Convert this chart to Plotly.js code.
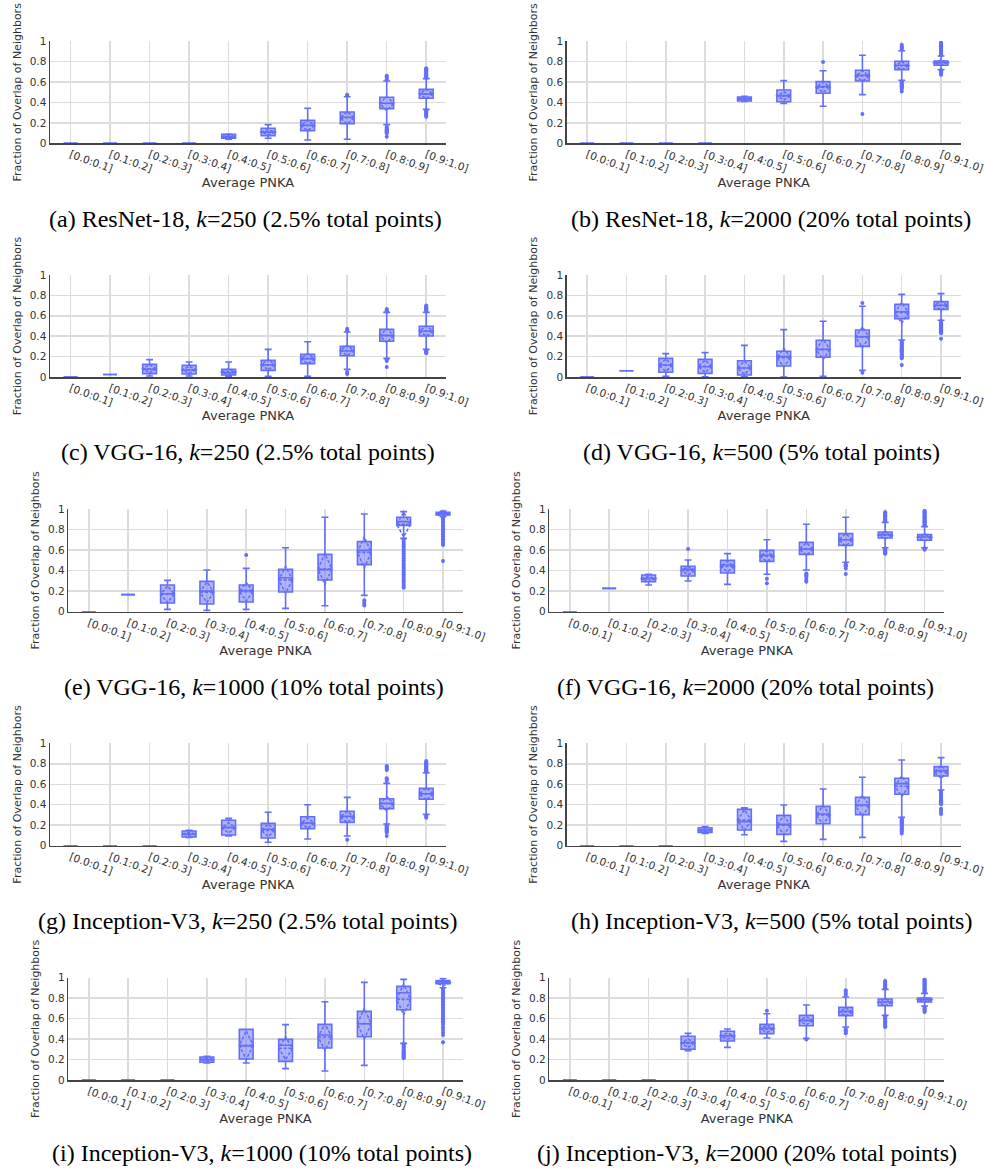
<!DOCTYPE html>
<html>
<head>
<meta charset="utf-8">
<script src="https://cdn.plot.ly/plotly-3.0.1.min.js"></script>
<style>html,body{margin:0;padding:0;background:#fff;}#chart{width:984px;height:1171px;}</style>
</head>
<body>
<div id="chart"></div>
<script>
// ---------- DATA ----------
const bins = ['[0.0:0.1]','[0.1:0.2]','[0.2:0.3]','[0.3:0.4]','[0.4:0.5]','[0.5:0.6]','[0.6:0.7]','[0.7:0.8]','[0.8:0.9]','[0.9:1.0]'];
const yTicks = [0, 0.2, 0.4, 0.6, 0.8, 1];
const yTickText = ['0', '0.2', '0.4', '0.6', '0.8', '1'];

// (a) ResNet-18, k=250
const lo_a   = [0,0,0,0,0.04,0.05,0.033,0.04,0.183,0.333];
const q1_a   = [0,0,0,0,0.05,0.075,0.124,0.193,0.34,0.441];
const med_a  = [0,0,0,0,0.065,0.11,0.176,0.255,0.392,0.484];
const q3_a   = [0,0,0,0,0.088,0.147,0.225,0.307,0.451,0.529];
const hi_a   = [0,0,0,0,0.09,0.183,0.343,0.457,0.611,0.634];
const mean_a = [0,0,0,0,0.066,0.11,0.175,0.25,0.39,0.484];
const sd_a   = [0,0,0,0,0.012,0.025,0.05,0.06,0.07,0.045];
const out_a  = [[],[],[],[],[],[],[],[0.468,0.477],
  [0.625,0.64,0.655,0.662,0.16,0.152,0.143,0.135,0.127,0.118,0.108,0.098,0.065],
  [0.645,0.655,0.664,0.672,0.68,0.69,0.698,0.705,0.713,0.72,0.728,0.735,0.325,0.316,0.307,0.298,0.289,0.28,0.27,0.26]];

// (b) ResNet-18, k=2000
const lo_b   = [0,0,0,0,0.41,0.39,0.363,0.477,0.618,0.722];
const q1_b   = [0,0,0,0,0.415,0.408,0.49,0.611,0.722,0.765];
const med_b  = [0,0,0,0,0.435,0.467,0.556,0.667,0.765,0.79];
const q3_b   = [0,0,0,0,0.454,0.523,0.605,0.716,0.804,0.807];
const hi_b   = [0,0,0,0,0.46,0.614,0.712,0.863,0.908,0.856];
const mean_b = [0,0,0,0,0.435,0.465,0.55,0.66,0.76,0.79];
const sd_b   = [0,0,0,0,0.01,0.04,0.05,0.05,0.04,0.025];
const out_b  = [[],[],[],[],[],[],[0.797],[0.288],
  [0.918,0.927,0.936,0.945,0.955,0.967,0.605,0.596,0.587,0.578,0.569,0.56,0.551,0.542,0.532,0.507],
  [0.864,0.872,0.88,0.888,0.896,0.904,0.912,0.92,0.928,0.936,0.944,0.952,0.96,0.968,0.976,0.984,0.993,0.715,0.706,0.697,0.688,0.68,0.673]];

// (c) VGG-16, k=250
const lo_c   = [0,0.025,0.01,0.01,0.007,0.007,0.007,0.075,0.183,0.271];
const q1_c   = [0,0.025,0.033,0.03,0.02,0.065,0.131,0.209,0.35,0.402];
const med_c  = [0,0.025,0.075,0.069,0.042,0.118,0.18,0.255,0.408,0.448];
const q3_c   = [0,0.025,0.124,0.114,0.075,0.163,0.222,0.3,0.467,0.497];
const hi_c   = [0,0.025,0.17,0.147,0.147,0.271,0.346,0.441,0.634,0.634];
const mean_c = [0,0.025,0.08,0.07,0.05,0.12,0.18,0.26,0.405,0.45];
const sd_c   = [0,0,0.04,0.035,0.03,0.05,0.05,0.05,0.07,0.05];
const out_c  = [[],[],[],[],[],[],[],[0.452,0.462,0.472,0.05,0.04,0.03],
  [0.642,0.65,0.658,0.667,0.175,0.166,0.157,0.098],
  [0.645,0.655,0.664,0.673,0.682,0.691,0.7,0.26,0.251,0.242,0.232]];

// (d) VGG-16, k=500
const lo_d   = [0,0.062,0.007,0.003,0.003,0,0.007,0.065,0.363,0.556];
const q1_d   = [0,0.062,0.046,0.036,0.02,0.108,0.193,0.3,0.572,0.663];
const med_d  = [0,0.062,0.118,0.101,0.088,0.2,0.271,0.395,0.64,0.703];
const q3_d   = [0,0.062,0.183,0.173,0.16,0.252,0.36,0.461,0.712,0.739];
const hi_d   = [0,0.062,0.229,0.239,0.31,0.464,0.546,0.693,0.81,0.817];
const mean_d = [0,0.062,0.115,0.105,0.09,0.19,0.27,0.39,0.63,0.7];
const sd_d   = [0,0,0.06,0.06,0.065,0.09,0.1,0.1,0.1,0.045];
const out_d  = [[],[],[],[],[],[],[],[0.725,0.042],
  [0.352,0.343,0.334,0.325,0.316,0.307,0.298,0.289,0.28,0.271,0.262,0.253,0.244,0.235,0.226,0.217,0.208,0.199,0.19,0.183,0.118],
  [0.548,0.538,0.528,0.518,0.508,0.498,0.488,0.478,0.468,0.458,0.448,0.438,0.428,0.376]];

// (e) VGG-16, k=1000
const lo_e   = [0,0.166,0.023,0.013,0.023,0.032,0.058,0.159,0.714,0.925];
const q1_e   = [0,0.166,0.084,0.075,0.094,0.192,0.308,0.458,0.841,0.942];
const med_e  = [0,0.166,0.175,0.2,0.205,0.33,0.41,0.597,0.877,0.955];
const q3_e   = [0,0.166,0.26,0.295,0.26,0.412,0.558,0.682,0.919,0.968];
const hi_e   = [0,0.166,0.305,0.406,0.422,0.623,0.919,0.951,0.974,0.98];
const mean_e = [0,0.166,0.17,0.19,0.195,0.31,0.415,0.578,0.85,0.95];
const sd_e   = [0,0,0.08,0.1,0.09,0.13,0.15,0.15,0.12,0.02];
const out_e  = [[],[],[],[],[0.552],[],[],[0.112,0.095,0.075,0.06],
  [0.705,0.688,0.671,0.654,0.637,0.62,0.603,0.586,0.569,0.552,0.535,0.518,0.501,0.484,0.467,0.45,0.433,0.416,0.399,0.382,0.365,0.348,0.331,0.314,0.297,0.28,0.263,0.246,0.234],
  [0.915,0.9,0.885,0.87,0.855,0.84,0.825,0.81,0.795,0.78,0.765,0.75,0.735,0.72,0.705,0.69,0.675,0.66,0.65,0.494]];

// (f) VGG-16, k=2000
const lo_f   = [0,0.227,0.26,0.299,0.266,0.364,0.406,0.481,0.623,0.623];
const q1_f   = [0,0.227,0.292,0.347,0.377,0.49,0.558,0.646,0.718,0.695];
const med_f  = [0,0.227,0.325,0.412,0.455,0.549,0.61,0.701,0.75,0.727];
const q3_f   = [0,0.227,0.357,0.442,0.5,0.597,0.675,0.76,0.776,0.75];
const hi_f   = [0,0.227,0.364,0.503,0.565,0.701,0.851,0.919,0.87,0.828];
const mean_f = [0,0.227,0.32,0.4,0.44,0.54,0.61,0.7,0.745,0.725];
const sd_f   = [0,0,0.025,0.04,0.05,0.05,0.06,0.06,0.035,0.035];
const out_f  = [[],[],[],[0.61],[],[0.322,0.276],[0.372,0.362,0.352,0.342,0.322,0.302,0.292],[0.462,0.452,0.442,0.42,0.367],
  [0.882,0.89,0.898,0.906,0.914,0.922,0.93,0.938,0.946,0.954,0.962,0.968,0.615,0.606,0.597,0.588,0.579,0.57,0.565],
  [0.84,0.848,0.856,0.864,0.872,0.88,0.888,0.896,0.904,0.912,0.92,0.928,0.936,0.944,0.952,0.96,0.968,0.976,0.982,0.618,0.61,0.602]];

// (g) Inception-V3, k=250
const lo_g   = [0,0,0,0.081,0.094,0.033,0.065,0.094,0.212,0.306];
const q1_g   = [0,0,0,0.085,0.104,0.075,0.166,0.228,0.362,0.453];
const med_g  = [0,0,0,0.114,0.179,0.16,0.221,0.287,0.414,0.508];
const q3_g   = [0,0,0,0.143,0.248,0.218,0.283,0.336,0.459,0.56];
const hi_g   = [0,0,0,0.15,0.267,0.326,0.4,0.472,0.609,0.713];
const mean_g = [0,0,0,0.115,0.175,0.15,0.22,0.28,0.41,0.505];
const sd_g   = [0,0,0,0.015,0.05,0.06,0.05,0.055,0.07,0.06];
const out_g  = [[],[],[],[],[],[],[],[0.059],
  [0.632,0.645,0.658,0.74,0.75,0.76,0.77,0.778,0.2,0.19,0.18,0.17,0.16,0.15,0.14,0.13,0.094],
  [0.72,0.728,0.736,0.744,0.752,0.76,0.768,0.776,0.784,0.792,0.8,0.808,0.816,0.827,0.292,0.283,0.274]];

// (h) Inception-V3, k=500
const lo_h   = [0,0,0,0.12,0.107,0.042,0.062,0.081,0.277,0.544];
const q1_h   = [0,0,0,0.13,0.153,0.111,0.215,0.303,0.502,0.681];
const med_h  = [0,0,0,0.153,0.235,0.208,0.309,0.397,0.606,0.733];
const q3_h   = [0,0,0,0.176,0.355,0.296,0.384,0.472,0.658,0.772];
const hi_h   = [0,0,0,0.186,0.371,0.397,0.554,0.668,0.837,0.86];
const mean_h = [0,0,0,0.15,0.25,0.2,0.3,0.39,0.58,0.72];
const sd_h   = [0,0,0,0.015,0.1,0.09,0.09,0.1,0.1,0.06];
const out_h  = [[],[],[],[],[],[],[],[],
  [0.265,0.256,0.247,0.238,0.229,0.22,0.211,0.202,0.193,0.184,0.175,0.166,0.157,0.148,0.139,0.12],
  [0.535,0.525,0.515,0.505,0.495,0.485,0.475,0.465,0.455,0.445,0.435,0.425,0.415,0.405,0.362,0.352,0.332,0.31]];

// (i) Inception-V3, k=1000
const lo_i   = [0,0,0,0.166,0.166,0.111,0.088,0.143,0.358,0.902];
const q1_i   = [0,0,0,0.173,0.205,0.182,0.313,0.423,0.687,0.941];
const med_i  = [0,0,0,0.199,0.332,0.339,0.44,0.55,0.853,0.958];
const q3_i   = [0,0,0,0.225,0.495,0.397,0.544,0.671,0.915,0.971];
const hi_i   = [0,0,0,0.231,0.495,0.541,0.765,0.954,0.984,0.993];
const mean_i = [0,0,0,0.2,0.34,0.31,0.42,0.55,0.788,0.95];
const sd_i   = [0,0,0,0.015,0.14,0.11,0.13,0.15,0.15,0.03];
const out_i  = [[],[],[],[],[],[],[],[],
  [0.352,0.342,0.332,0.322,0.312,0.302,0.292,0.282,0.272,0.262,0.252,0.242,0.232,0.222,0.212],
  [0.89,0.875,0.86,0.845,0.83,0.815,0.8,0.785,0.77,0.755,0.74,0.725,0.71,0.695,0.68,0.665,0.65,0.635,0.62,0.605,0.59,0.575,0.56,0.54,0.515,0.49,0.465,0.44,0.37]];

// (j) Inception-V3, k=2000
const lo_j   = [0,0,0,0.287,0.319,0.41,0.407,0.518,0.632,0.723];
const q1_j   = [0,0,0,0.3,0.381,0.453,0.531,0.629,0.726,0.762];
const med_j  = [0,0,0,0.365,0.433,0.505,0.583,0.671,0.762,0.785];
const q3_j   = [0,0,0,0.427,0.476,0.544,0.632,0.71,0.792,0.801];
const hi_j   = [0,0,0,0.456,0.498,0.648,0.733,0.811,0.886,0.847];
const mean_j = [0,0,0,0.36,0.43,0.5,0.58,0.665,0.76,0.785];
const sd_j   = [0,0,0,0.04,0.03,0.035,0.04,0.04,0.035,0.025];
const out_j  = [[],[],[],[],[],[0.678],[0.397],[0.83,0.845,0.862,0.878,0.502,0.487,0.472,0.457],
  [0.894,0.903,0.912,0.921,0.93,0.939,0.948,0.957,0.967,0.622,0.61,0.598,0.586,0.574,0.562,0.55,0.538,0.526,0.518],
  [0.856,0.864,0.872,0.88,0.888,0.896,0.904,0.912,0.92,0.928,0.936,0.944,0.952,0.96,0.968,0.976,0.984,0.714,0.704,0.694,0.684,0.674,0.664]];

const captions = [
  '(a) ResNet-18, <i>k</i>=250 (2.5% total points)',
  '(b) ResNet-18, <i>k</i>=2000 (20% total points)',
  '(c) VGG-16, <i>k</i>=250 (2.5% total points)',
  '(d) VGG-16, <i>k</i>=500 (5% total points)',
  '(e) VGG-16, <i>k</i>=1000 (10% total points)',
  '(f) VGG-16, <i>k</i>=2000 (20% total points)',
  '(g) Inception-V3, <i>k</i>=250 (2.5% total points)',
  '(h) Inception-V3, <i>k</i>=500 (5% total points)',
  '(i) Inception-V3, <i>k</i>=1000 (10% total points)',
  '(j) Inception-V3, <i>k</i>=2000 (20% total points)'
];

// ---------- LAYOUT / BUILD ----------
const W = 984, H = 1171;
const panels = [
  {lo:lo_a,q1:q1_a,med:med_a,q3:q3_a,hi:hi_a,mean:mean_a,sd:sd_a,out:out_a},
  {lo:lo_b,q1:q1_b,med:med_b,q3:q3_b,hi:hi_b,mean:mean_b,sd:sd_b,out:out_b},
  {lo:lo_c,q1:q1_c,med:med_c,q3:q3_c,hi:hi_c,mean:mean_c,sd:sd_c,out:out_c},
  {lo:lo_d,q1:q1_d,med:med_d,q3:q3_d,hi:hi_d,mean:mean_d,sd:sd_d,out:out_d},
  {lo:lo_e,q1:q1_e,med:med_e,q3:q3_e,hi:hi_e,mean:mean_e,sd:sd_e,out:out_e},
  {lo:lo_f,q1:q1_f,med:med_f,q3:q3_f,hi:hi_f,mean:mean_f,sd:sd_f,out:out_f},
  {lo:lo_g,q1:q1_g,med:med_g,q3:q3_g,hi:hi_g,mean:mean_g,sd:sd_g,out:out_g},
  {lo:lo_h,q1:q1_h,med:med_h,q3:q3_h,hi:hi_h,mean:mean_h,sd:sd_h,out:out_h},
  {lo:lo_i,q1:q1_i,med:med_i,q3:q3_i,hi:hi_i,mean:mean_i,sd:sd_i,out:out_i},
  {lo:lo_j,q1:q1_j,med:med_j,q3:q3_j,hi:hi_j,mean:mean_j,sd:sd_j,out:out_j}
];
// plot-area pixel boxes [left, right, top, bottom]
const boxesPx = [
  [50,446,41.3,143.3],[566.7,960.7,41.3,143.3],
  [50,446,275,377],[566.7,960.7,275,377],
  [68.3,462.7,509,611.7],[549.3,944.3,509,611.7],
  [50,446,743.3,845.7],[566.7,960.7,743.3,845.7],
  [68.3,462.7,977.7,1080],[549.3,944.3,977.7,1080]
];
const capPos = [[245,219],[771,219],[248,452],[761,452],[254,687],[745,687],[248,921],[771,921],[262,1153],[747,1153]];

const BLUE = '#636efa';
const traces = [];
const layout = {
  width: W, height: H, autosize: false,
  margin: {l:0, r:0, t:0, b:0},
  paper_bgcolor: '#ffffff', plot_bgcolor: '#ffffff',
  showlegend: false, boxgap: 0.5,
  font: {family: 'DejaVu Sans', color: '#333333'},
  annotations: []
};

panels.forEach((p, i) => {
  const n = i + 1;
  const xa = 'x' + (n === 1 ? '' : n), ya = 'y' + (n === 1 ? '' : n);
  const xk = 'xaxis' + (n === 1 ? '' : n), yk = 'yaxis' + (n === 1 ? '' : n);
  const bp = boxesPx[i];
  traces.push({
    type: 'box', orientation: 'v', x: bins, xaxis: xa, yaxis: ya,
    q1: p.q1, median: p.med, q3: p.q3, lowerfence: p.lo, upperfence: p.hi,
    mean: p.mean, sd: p.sd, boxmean: 'sd', boxpoints: false,
    line: {color: BLUE, width: 1.6}, fillcolor: 'rgba(99,110,250,0.5)',
    whiskerwidth: 0.5, hoverinfo: 'skip'
  });
  const ox = [], oy = [];
  p.out.forEach((vals, k) => vals.forEach(v => { ox.push(bins[k]); oy.push(v); }));
  traces.push({
    type: 'scatter', mode: 'markers', x: ox, y: oy, xaxis: xa, yaxis: ya,
    marker: {color: BLUE, size: 4}, hoverinfo: 'skip'
  });
  layout[xk] = {
    domain: [bp[0]/W, bp[1]/W], anchor: ya, type: 'category',
    categoryorder: 'array', categoryarray: bins, range: [-0.52, 9.5],
    showgrid: true, gridcolor: '#dcdcdc', gridwidth: 1.5,
    showline: true, linecolor: '#444444', linewidth: 1.5, zeroline: false,
    ticks: '', tickangle: 20, tickfont: {size: 10.5, color: '#333333'},
    title: {text: 'Average PNKA', font: {size: 13, color: '#333333'}, standoff: 4}
  };
  layout[yk] = {
    domain: [1 - bp[3]/H, 1 - bp[2]/H], anchor: xa, range: [0, 1],
    tickmode: 'array', tickvals: yTicks, ticktext: yTickText,
    showgrid: true, gridcolor: '#dcdcdc', gridwidth: 1.5,
    showline: true, linecolor: '#444444', linewidth: 1.5, zeroline: false,
    ticks: '', tickfont: {size: 10.5, color: '#333333'},
    title: {text: 'Fraction of Overlap of Neighbors', font: {size: 11, color: '#333333'}, standoff: 6}
  };
  layout.annotations.push({
    xref: 'paper', yref: 'paper', x: capPos[i][0]/W, y: 1 - capPos[i][1]/H,
    xanchor: 'center', yanchor: 'middle', showarrow: false,
    text: captions[i], font: {family: 'Liberation Serif', size: 24, color: '#000000'}
  });
});

Plotly.newPlot('chart', traces, layout, {staticPlot: true, displayModeBar: false});
</script>
</body>
</html>
